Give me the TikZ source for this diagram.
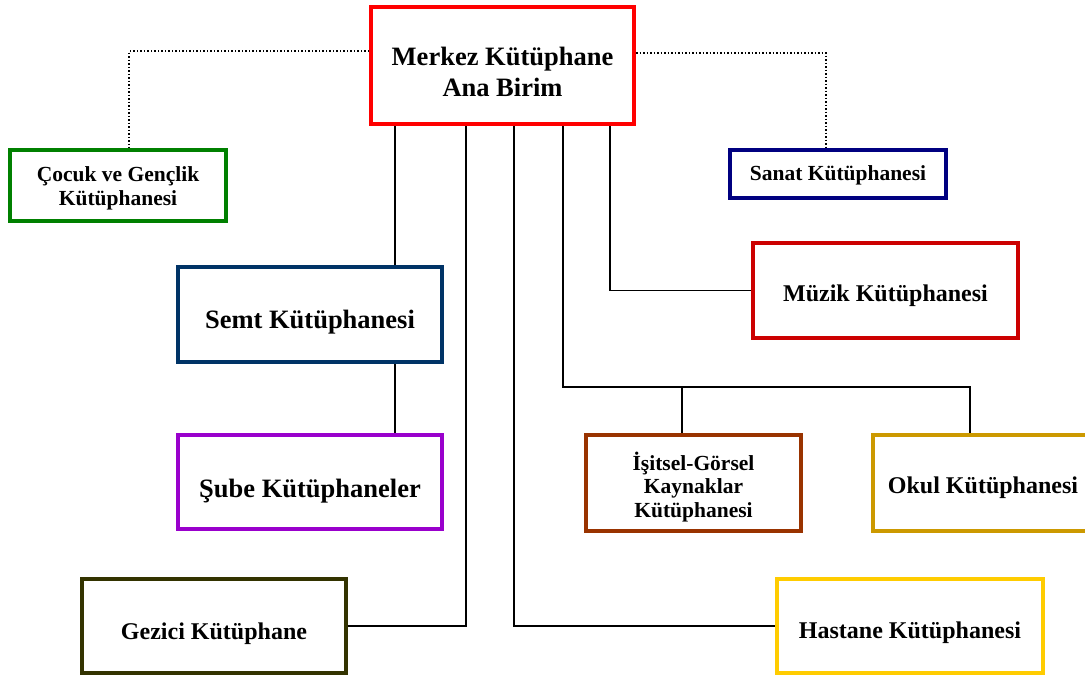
\documentclass[tikz,border=0pt]{standalone}
\usepackage{fontspec}
\setmainfont{Liberation Serif}
\usepackage{tikz}
\usetikzlibrary{positioning}

\definecolor{merkezred}{RGB}{255,0,0}
\definecolor{cocukgreen}{RGB}{0,128,0}
\definecolor{sanatnavy}{RGB}{0,0,128}
\definecolor{semtblue}{RGB}{0,51,102}
\definecolor{muzikred}{RGB}{204,0,0}
\definecolor{subepurple}{RGB}{153,0,204}
\definecolor{isitselbrown}{RGB}{153,51,0}
\definecolor{okulgold}{RGB}{204,153,0}
\definecolor{geziciolive}{RGB}{51,51,0}
\definecolor{hastaneyellow}{RGB}{255,204,0}

\begin{document}
\begin{tikzpicture}[x=1pt,y=-1pt,
		unit/.style={draw=#1, line width=4pt, fill=white, inner sep=0pt},
		txt/.style={draw=none, fill=none, align=center, inner sep=0pt, font=\bfseries #1},
		big/.style={txt=\fontsize{26.5}{31}\selectfont},
		mid/.style={txt=\fontsize{24}{28}\selectfont},
		small/.style={txt=\fontsize{21.5}{23.5}\selectfont},
		link/.style={line width=1.5pt, black},
		dotlink/.style={line width=1.5pt, black, dotted}]
		\clip (0,0) rectangle (1085,675);
		\useasboundingbox (0,0) rectangle (1085,675);

		% birimler
		\node[unit=merkezred, minimum width=263, minimum height=117,
			label={[big, yshift=-6]center:{Merkez Kütüphane\\Ana Birim}}] (merkez) at (502.5,65.5) {};
		\node[unit=cocukgreen, minimum width=216, minimum height=71,
			label={[small, yshift=-3]center:{Çocuk ve Gençlik\\Kütüphanesi}}] (cocuk) at (118,185.5) {};
		\node[unit=sanatnavy, minimum width=216, minimum height=48,
			label={[small, yshift=-1]center:Sanat Kütüphanesi}] (sanat) at (838,174) {};
		\node[unit=semtblue, minimum width=264, minimum height=95,
			label={[big, yshift=-8]center:Semt Kütüphanesi}] (semt) at (310,314.5) {};
		\node[unit=muzikred, minimum width=265, minimum height=95,
			label={[mid, yshift=-5]center:Müzik Kütüphanesi}] (muzik) at (885.5,290.5) {};
		\node[unit=subepurple, minimum width=264, minimum height=94,
			label={[big, yshift=-9]center:Şube Kütüphaneler}] (sube) at (310,482) {};
		\node[unit=isitselbrown, minimum width=215, minimum height=96,
			label={[small, yshift=-4]center:{İşitsel-Görsel\\Kaynaklar\\Kütüphanesi}}] (isitsel) at (693.5,483) {};
		\node[unit=okulgold, minimum width=220, minimum height=96,
			label={[mid, yshift=-5]center:Okul Kütüphanesi}] (okul) at (983,483) {};
		\node[unit=geziciolive, minimum width=264, minimum height=94,
			label={[mid, yshift=-8]center:Gezici Kütüphane}] (gezici) at (214,626) {};
		\node[unit=hastaneyellow, minimum width=266, minimum height=94,
			label={[mid, yshift=-7]center:Hastane Kütüphanesi}] (hastane) at (910,626) {};

		% baglantilar
		\coordinate (b1) at (395,0);
		\coordinate (b2) at (466,0);
		\coordinate (b3) at (514,0);
		\coordinate (b5) at (610,0);
		\coordinate (bus) at (563,387);

		\draw[dotlink] ([yshift=14.5]merkez.west) -| ([xshift=11]cocuk.north);
		\draw[dotlink] ([yshift=12.5]merkez.east) -| ([xshift=-12]sanat.north);

		\draw[link] (merkez.south -| b1) -- (semt.north -| b1);
		\draw[link] (semt.south -| b1) -- (sube.north -| b1);
		\draw[link] (merkez.south -| b2) |- (gezici.east);
		\draw[link] (merkez.south -| b3) |- (hastane.west);
		\draw[link] (merkez.south -| bus) -- (bus) -| ([xshift=-13]okul.north);
		\draw[link] ([xshift=-11.5]isitsel.north) -- ([xshift=-11.5]isitsel.north |- bus);
		\draw[link] (merkez.south -| b5) |- (muzik.west);
	\end{tikzpicture}
\end{document}
